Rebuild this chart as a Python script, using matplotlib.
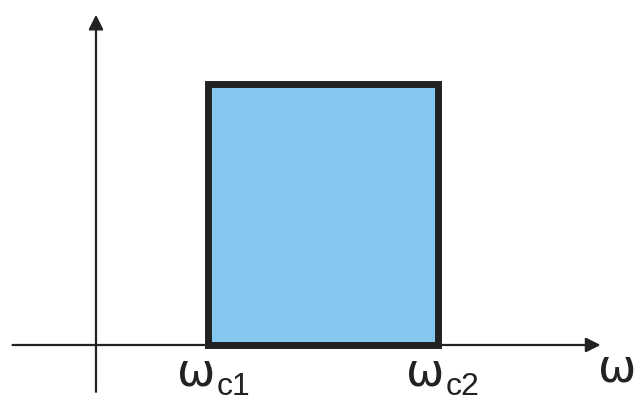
import matplotlib.pyplot as plt

# band-pass response: edges and gain (data units)
band_edges = [1.0, 3.05]
gain = [1.0]
edge_labels = ["c1", "c2"]
axis_label = "ω"

fig = plt.figure(figsize=(6.42, 4.01), dpi=100)
ax = fig.add_axes([0, 0, 1, 1])
ax.set_xlim(-0.857, 4.875)
ax.set_ylim(-0.2146, 1.3218)
ax.axis("off")

dark = "#222222"

# pass band rectangle
ax.bar(band_edges[0], gain[0], width=band_edges[1] - band_edges[0], align="edge",
       facecolor="#84c8f0", edgecolor=dark, linewidth=5, zorder=2)

# axes with arrows
ax.annotate("", xy=(4.53, 0), xytext=(-0.77, 0),
            arrowprops=dict(arrowstyle="-|>", mutation_scale=22, lw=1.6, color=dark),
            zorder=3)
ax.annotate("", xy=(0, 1.276), xytext=(0, -0.19),
            arrowprops=dict(arrowstyle="-|>", mutation_scale=22, lw=1.6, color=dark),
            zorder=3)

# edge labels: omega with subscript
for x, sub in zip(band_edges, edge_labels):
    ax.annotate("ω", xy=(x, 0), xytext=(5, -20), textcoords="offset points",
                ha="right", va="center", fontsize=33, color=dark, family="DejaVu Sans")
    ax.annotate(sub, xy=(x, 0), xytext=(6, -30), textcoords="offset points",
                ha="left", va="center", fontsize=23, color=dark, family="Liberation Sans")

ax.annotate(axis_label, xy=(4.53, 0), xytext=(10, -17), textcoords="offset points",
            ha="center", va="center", fontsize=33, color=dark, family="DejaVu Sans")

fig.savefig("out.png", dpi=100)
